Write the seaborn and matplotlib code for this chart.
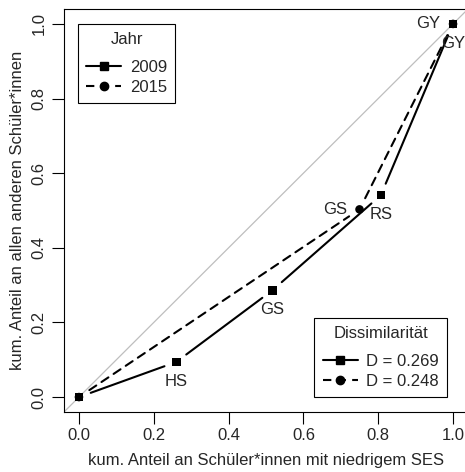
import numpy as np
import pandas as pd
import seaborn as sns
import matplotlib.pyplot as plt
from matplotlib.lines import Line2D

sns.set_style('white')
plt.rcParams['font.family'] = ['Liberation Sans', 'DejaVu Sans']
plt.rcParams['font.size'] = 12

# data
x_2009 = [0.0, 0.26, 0.517, 0.807, 1.0]
y_2009 = [0.0, 0.094, 0.286, 0.541, 1.0]
lab_2009 = ['', 'HS', 'GS', 'RS', 'GY']
pos_2009 = ['', 'below', 'below', 'below', 'left']

x_2015 = [0.0, 0.75, 1.0]
y_2015 = [0.0, 0.503, 1.0]
lab_2015 = ['', 'GS', 'GY']
pos_2015 = ['', 'left', 'below']

years = ['2009', '2015']
dissim = [0.269, 0.248]
ticks = [0.0, 0.2, 0.4, 0.6, 0.8, 1.0]

df = pd.concat([
    pd.DataFrame({'x': x_2015, 'y': y_2015, 'Jahr': '2015'}),
    pd.DataFrame({'x': x_2009, 'y': y_2009, 'Jahr': '2009'}),
])

fig = plt.figure(figsize=(4.65, 4.72), dpi=100)
ax = fig.add_axes([64/465, 1 - 412/472, 404/465, 403/472])

ax.axline((0, 0), (1, 1), color='#bebebe', lw=0.9, zorder=1)

# lines with gaps around the points (like R type="b")
styles = {'2009': '-', '2015': (0, (4, 3))}
series = {'2009': (x_2009, y_2009), '2015': (x_2015, y_2015)}
for yr in years:
    xs, ys = series[yr]
    for i in range(len(xs) - 1):
        ax.annotate('', xy=(xs[i+1], ys[i+1]), xytext=(xs[i], ys[i]),
                    arrowprops=dict(arrowstyle='-', shrinkA=9, shrinkB=9,
                                    lw=1.5, ls=styles[yr], color='black'))

sns.scatterplot(data=df, x='x', y='y', style='Jahr',
                markers={'2009': 's', '2015': 'o'}, color='black',
                s=38, linewidth=0, legend=False, ax=ax, zorder=3)

for xs, ys, labs, poss in [(x_2009, y_2009, lab_2009, pos_2009),
                           (x_2015, y_2015, lab_2015, pos_2015)]:
    for x, y, l, p in zip(xs, ys, labs, poss):
        if not l:
            continue
        if p == 'below':
            ax.annotate(l, (x, y), xytext=(0, -14), textcoords='offset points',
                        ha='center', va='center')
        else:
            ax.annotate(l, (x, y), xytext=(-9, 0), textcoords='offset points',
                        ha='right', va='center')

ax.set_xlim(-0.04, 1.04)
ax.set_ylim(-0.04, 1.04)
ax.set_xticks(ticks)
ax.set_yticks(ticks)
ax.set_xticklabels([f'{t:.1f}' for t in ticks])
ax.set_yticklabels([f'{t:.1f}' for t in ticks], rotation=90, va='center')
ax.tick_params(direction='out', length=8.5, width=0.8, color='black',
               bottom=True, left=True, labelsize=12)
ax.tick_params(axis='x', pad=3)
ax.tick_params(axis='y', pad=4)
for s in ax.spines.values():
    s.set_color('black')
    s.set_linewidth(0.8)

ax.set_xlabel('kum. Anteil an Schüler*innen mit niedrigem SES', labelpad=7.5)
ax.set_ylabel('kum. Anteil an allen anderen Schüler*innen', labelpad=5)

h2009 = Line2D([], [], color='black', lw=1.5, ls='-', marker='s', ms=6)
h2015 = Line2D([], [], color='black', lw=1.5, ls=(0, (4, 3)), marker='o', ms=6)

leg_kw = dict(fancybox=False, edgecolor='black', framealpha=1,
              handlelength=2.1, handletextpad=0.5, labelspacing=0.3,
              borderpad=0.5, bbox_transform=fig.transFigure, borderaxespad=0)
leg1 = ax.legend([h2009, h2015], years, title='Jahr', loc='upper left',
                 bbox_to_anchor=(78/465, 1 - 24/472), **leg_kw)
leg1.get_frame().set_linewidth(0.8)
leg1._legend_box.sep = 9.0
ax.add_artist(leg1)
leg2 = ax.legend([h2009, h2015], [f'D = {d:.3f}' for d in dissim],
                 title='Dissimilarität', loc='lower right',
                 bbox_to_anchor=(447/465, 1 - 397/472), **leg_kw)
leg2.get_frame().set_linewidth(0.8)
leg2._legend_box.sep = 9.0

fig.savefig('out.png', dpi=100)
